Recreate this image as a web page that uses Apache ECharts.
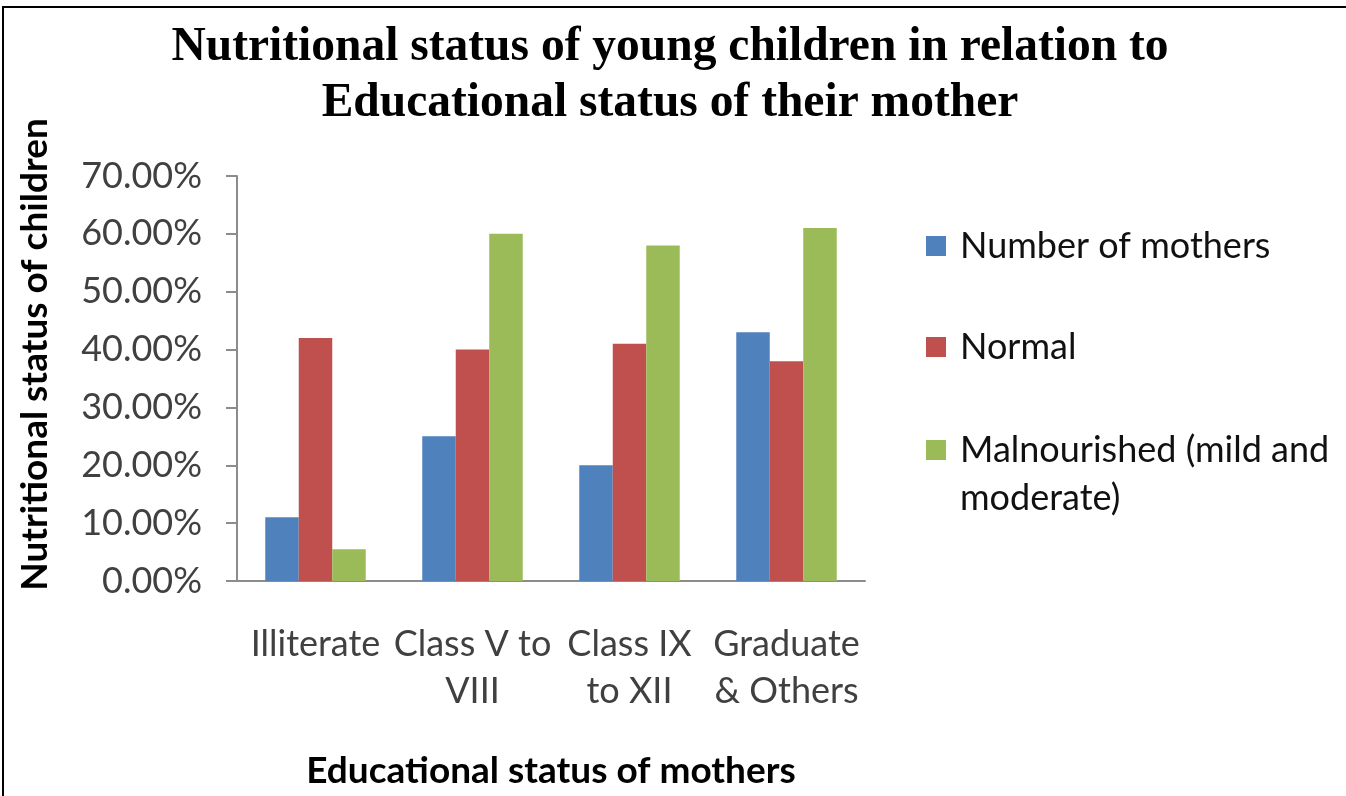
<!DOCTYPE html>
<html>
<head>
<meta charset="utf-8">
<title>Nutritional status of young children</title>
<script src="https://cdn.jsdelivr.net/npm/echarts@6/dist/echarts.min.js"></script>
<style>
  html, body { margin: 0; padding: 0; background: #fff; }
  #chart { width: 1346px; height: 796px; }
</style>
</head>
<body>
<div id="chart"></div>
<script>
// categories on the x axis
const categories = ['Illiterate', 'Class V to\nVIII', 'Class IX\nto XII', 'Graduate\n& Others']

// values in percent
const numberOfMothers = [11, 25, 20, 43]
const normal = [42, 40, 41, 38]
const malnourished = [5.5, 60, 58, 61]

const seriesNames = ['Number of mothers', 'Normal', 'Malnourished (mild and moderate)']
const colors = ['#4F81BD', '#C0504D', '#9BBB59']

const labelFont = 'Lato, "Open Sans", sans-serif'

const myChart = echarts.init(document.getElementById('chart'))

// one legend block per entry so each can sit where the picture has it
const legendItem = (name, top) => ({
  orient: 'vertical',
  left: 921,
  top: top,
  data: [name],
  icon: 'rect',
  itemWidth: 20,
  itemHeight: 20,
  itemGap: 0,
  selectedMode: false,
  textStyle: {
    fontFamily: labelFont,
    fontSize: 36,
    color: '#111',
    lineHeight: 48,
    padding: [0, 0, 0, 9]
  }
})

myChart.setOption({
  animation: false,
  backgroundColor: '#fff',
  color: colors,
  title: {
    text: 'Nutritional status of young children in relation to\nEducational status of their mother',
    left: 665,
    textAlign: 'center',
    top: 15,
    textStyle: {
      fontFamily: '"Liberation Serif", "Times New Roman", serif',
      fontWeight: 'bold',
      fontSize: 47.5,
      lineHeight: 56,
      color: '#000'
    }
  },
  legend: [
    legendItem(seriesNames[0], 217),
    legendItem(seriesNames[1], 318),
    // blank first line keeps the marker level with the first text line
    Object.assign(legendItem(seriesNames[2], 373), {
      formatter: () => '\nMalnourished (mild and\nmoderate)'
    })
  ],
  graphic: [
    {
      type: 'rect',
      shape: { x: 3, y: 7, width: 1400, height: 900 },
      style: { fill: 'none', stroke: '#000', lineWidth: 2 },
      silent: true
    }
  ],
  grid: {
    left: 237,
    right: 481,
    top: 176,
    bottom: 215,
    containLabel: false
  },
  xAxis: {
    type: 'category',
    data: categories,
    name: 'Educational status of mothers',
    nameLocation: 'middle',
    nameGap: 172,
    nameTextStyle: {
      fontFamily: labelFont,
      fontWeight: 'bold',
      fontSize: 37,
      color: '#000'
    },
    axisLine: { lineStyle: { color: '#8c8c8c', width: 2 } },
    axisTick: { show: false },
    axisLabel: {
      interval: 0,
      margin: 40,
      fontFamily: labelFont,
      fontSize: 36,
      lineHeight: 47,
      color: '#404040'
    }
  },
  yAxis: {
    type: 'value',
    min: 0,
    max: 70,
    interval: 10,
    name: 'Nutritional status of children',
    nameLocation: 'middle',
    nameRotate: 90,
    nameGap: 183,
    nameTextStyle: {
      fontFamily: labelFont,
      fontWeight: 'bold',
      fontSize: 37,
      color: '#000',
      padding: [0, 0, 0, 48]
    },
    axisLine: { show: true, lineStyle: { color: '#8c8c8c', width: 2 } },
    axisTick: { show: true, length: 11, lineStyle: { color: '#8c8c8c', width: 2 } },
    splitLine: { show: false },
    axisLabel: {
      margin: 35,
      fontFamily: labelFont,
      fontSize: 36,
      color: '#404040',
      formatter: v => v.toFixed(2) + '%'
    }
  },
  series: [
    { name: seriesNames[0], type: 'bar', data: numberOfMothers, barGap: '0%', barCategoryGap: '36%' },
    { name: seriesNames[1], type: 'bar', data: normal, barGap: '0%', barCategoryGap: '36%' },
    { name: seriesNames[2], type: 'bar', data: malnourished, barGap: '0%', barCategoryGap: '36%' }
  ]
})
</script>
</body>
</html>
